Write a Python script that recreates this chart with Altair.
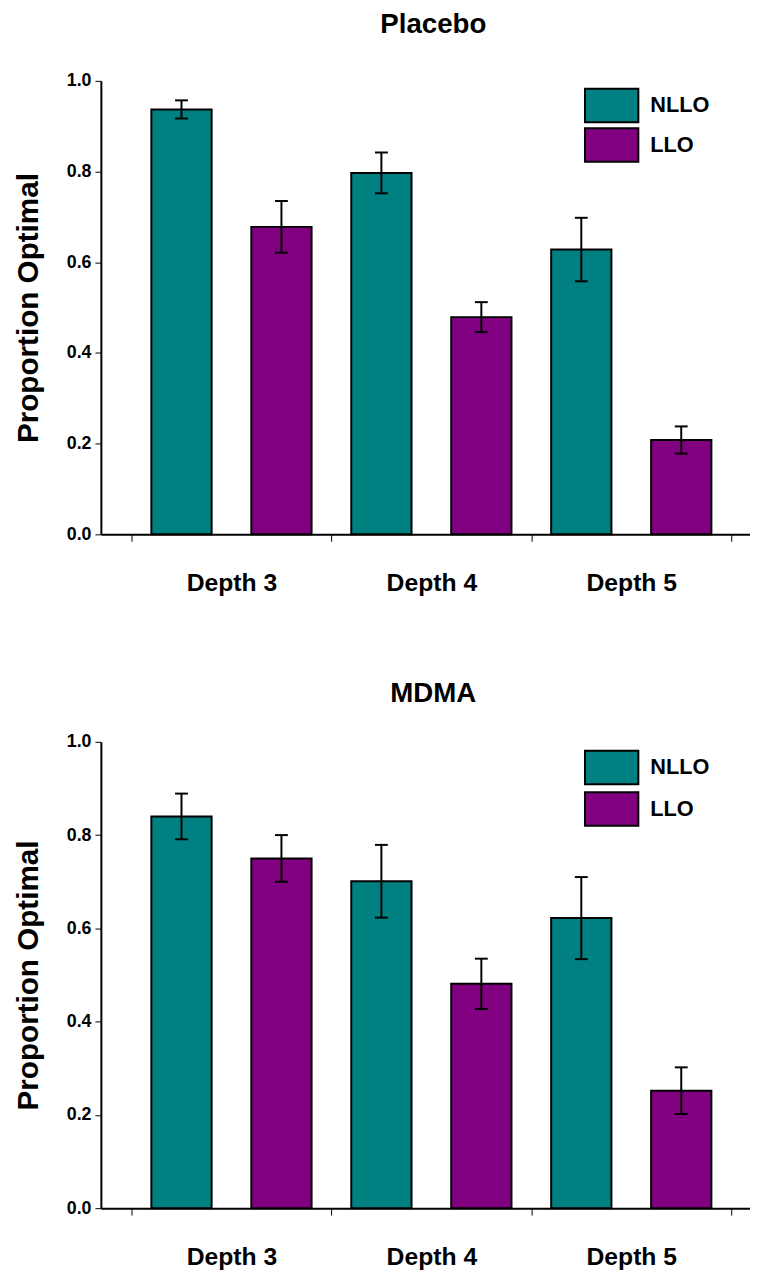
import altair as alt
import pandas as pd

depths = ["Depth 3", "Depth 4", "Depth 5"]
groups = ["NLLO", "LLO"]
colors = ["#008080", "#800080"]

placebo_nllo = [0.937, 0.797, 0.628]
placebo_llo = [0.678, 0.479, 0.208]
placebo_nllo_err = [0.020, 0.045, 0.070]
placebo_llo_err = [0.057, 0.033, 0.030]

mdma_nllo = [0.840, 0.701, 0.622]
mdma_llo = [0.750, 0.481, 0.252]
mdma_nllo_err = [0.049, 0.078, 0.088]
mdma_llo_err = [0.050, 0.054, 0.050]

y_ticks = [0.0, 0.2, 0.4, 0.6, 0.8, 1.0]
FONT = "Liberation Sans"


def panel_df(nllo, llo, nllo_err, llo_err):
    rows = []
    for i, d in enumerate(depths):
        rows.append(dict(depth=d, group="NLLO", value=nllo[i], err=nllo_err[i]))
        rows.append(dict(depth=d, group="LLO", value=llo[i], err=llo_err[i]))
    df = pd.DataFrame(rows)
    df["lo"] = df["value"] - df["err"]
    df["hi"] = df["value"] + df["err"]
    return df


def panel(df, title, height, title_offset, legend_y, row_pad):
    x = alt.X(
        "depth:N", sort=depths, title=None,
        scale=alt.Scale(paddingInner=0, paddingOuter=0.1236, align=0.62),
        axis=alt.Axis(labelAngle=0, tickBand="extent", tickSize=7, tickWidth=1,
                      tickColor="black", domainColor="black", domainWidth=2,
                      labelFontSize=25, labelFontWeight="bold", labelColor="black",
                      labelPadding=30, labelFont=FONT),
    )
    xo = alt.XOffset("group:N", sort=groups,
                     scale=alt.Scale(paddingInner=0.397, paddingOuter=0.1985))
    yaxis = alt.Axis(values=y_ticks, format=".1f", title="Proportion Optimal",
                     grid=False, tickSize=6, tickWidth=1, tickColor="black",
                     domainColor="black", domainWidth=2,
                     labelFontSize=18, labelFontWeight="bold", labelColor="black",
                     labelPadding=4, labelFont=FONT,
                     titleFontSize=30, titleFontWeight="bold", titleColor="black",
                     titleFont=FONT, titlePadding=23)
    yscale = alt.Scale(domain=[0, 1], nice=False, zero=True)
    color = alt.Color(
        "group:N", sort=groups,
        scale=alt.Scale(domain=groups, range=colors),
        legend=alt.Legend(
            title=None, orient="none", legendX=498, legendY=legend_y,
            symbolType="M-1.5,-0.944L1.5,-0.944L1.5,0.944L-1.5,0.944Z",
            symbolSize=1296, symbolStrokeColor="black", symbolStrokeWidth=2,
            symbolOpacity=1, labelFontSize=22, labelFontWeight="bold",
            labelColor="black", labelFont=FONT, labelOffset=20, rowPadding=row_pad,
        ),
    )
    base = alt.Chart(df)
    bars = base.mark_bar(stroke="black", strokeWidth=2, opacity=1).encode(
        x=x, xOffset=xo,
        y=alt.Y("value:Q", scale=yscale, axis=yaxis),
        color=color,
    )
    rules = base.mark_rule(color="black", strokeWidth=2).encode(
        x=x, xOffset=xo,
        y=alt.Y("lo:Q", scale=yscale, axis=yaxis), y2="hi:Q",
    )
    cap_hi = base.mark_tick(color="black", thickness=2, size=13, opacity=1).encode(
        x=x, xOffset=xo, y=alt.Y("hi:Q", scale=yscale, axis=yaxis),
    )
    cap_lo = base.mark_tick(color="black", thickness=2, size=13, opacity=1).encode(
        x=x, xOffset=xo, y=alt.Y("lo:Q", scale=yscale, axis=yaxis),
    )
    return alt.layer(bars, rules, cap_hi, cap_lo).properties(
        width=657, height=height,
        title=alt.Title(title, fontSize=28, fontWeight="bold", font=FONT,
                        color="black", anchor="middle", frame="group", dx=8,
                        offset=title_offset),
    )


top = panel(panel_df(placebo_nllo, placebo_llo, placebo_nllo_err, placebo_llo_err),
            "Placebo", 459, 33, 6, -3)
bottom = panel(panel_df(mdma_nllo, mdma_llo, mdma_nllo_err, mdma_llo_err),
               "MDMA", 472, 25, 7, 0)

chart = alt.vconcat(top, bottom, spacing=86).resolve_legend(
    color="independent"
).properties(
    padding={"left": 5, "top": -4, "right": 0, "bottom": 5}
).configure(font=FONT).configure_view(stroke=None)

chart.save("out.html", embed_options={"renderer": "svg", "actions": False})
